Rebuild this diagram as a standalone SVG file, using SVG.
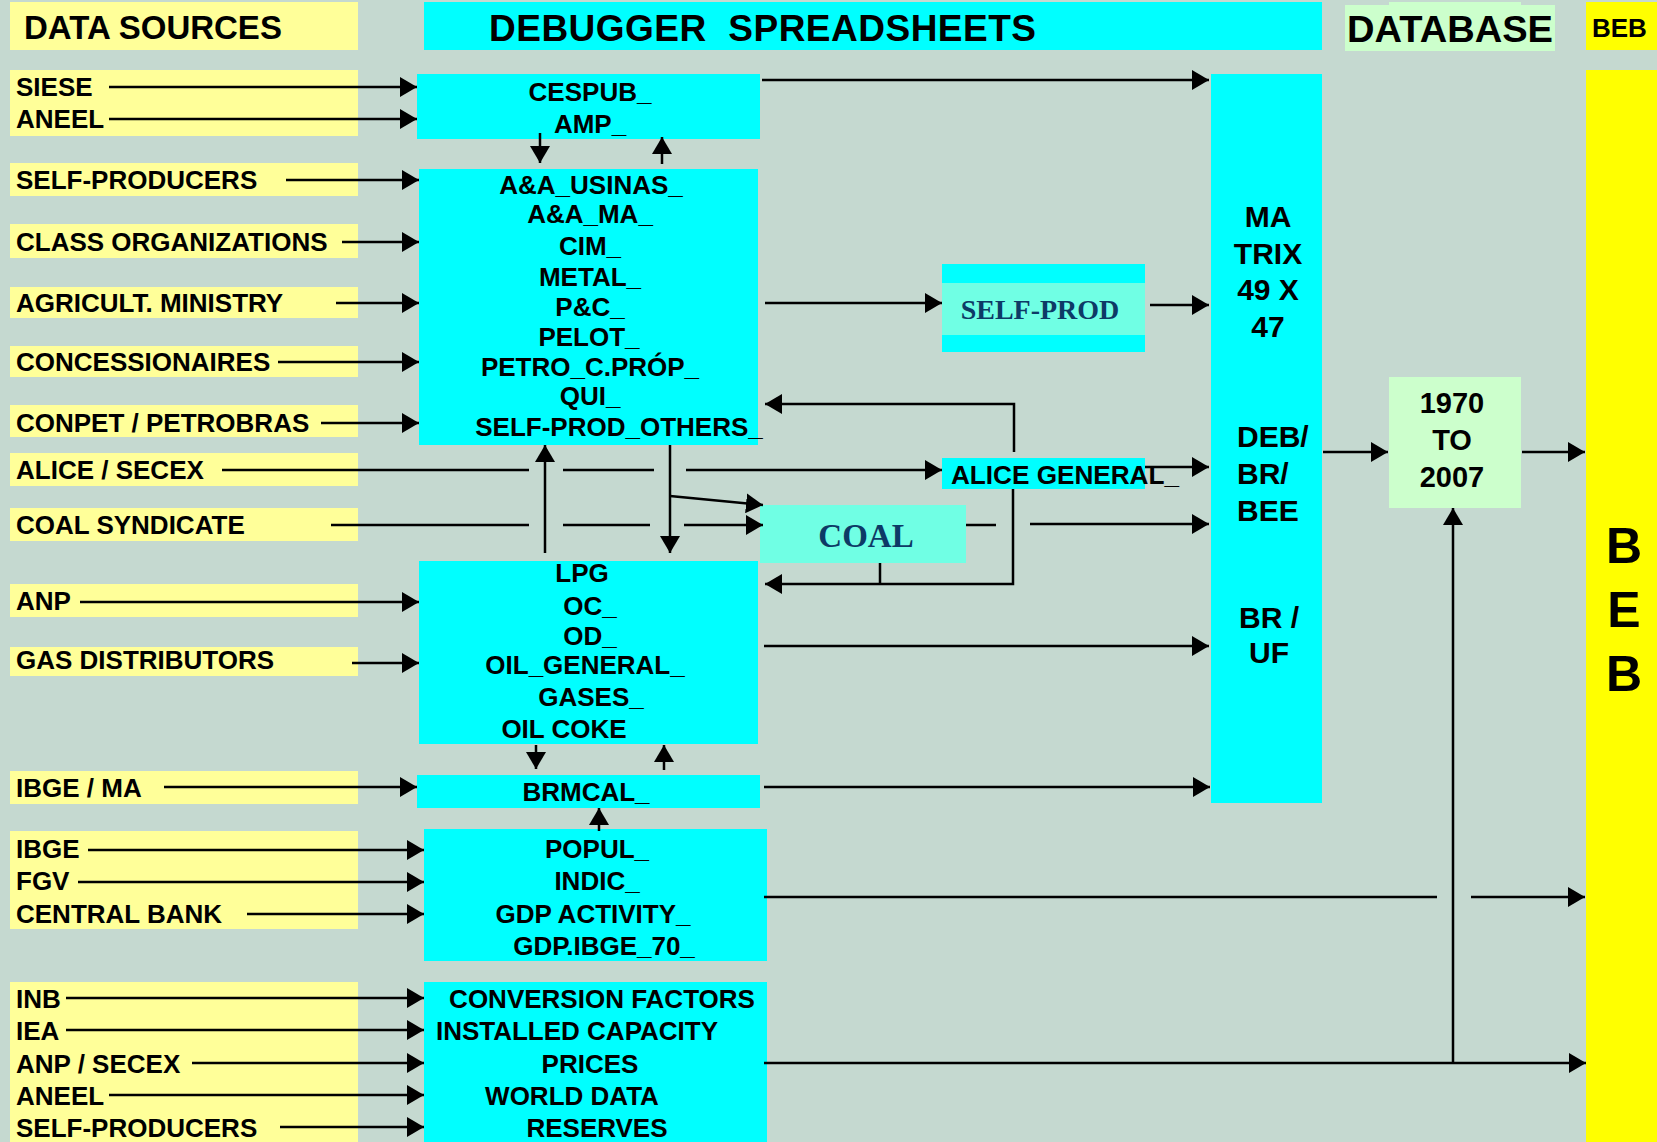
<svg xmlns="http://www.w3.org/2000/svg" width="1657" height="1142" viewBox="0 0 1657 1142">
<style>
.t{font-family:"Liberation Sans",Arial,Helvetica,sans-serif;font-weight:bold;font-size:26px;fill:#000}
.m{text-anchor:middle}
.src{fill:#FFFF99}
.cy{fill:#00FFFF}
.aq{fill:#70FFE4}
.lg{fill:#CCFFCC}
.sf{font-family:"Liberation Serif","Times New Roman",serif;font-weight:bold;fill:#0D3A66;text-anchor:middle}
.c line,.c polyline{stroke:#000;stroke-width:2.5;fill:none}
.a{marker-end:url(#ah)}
</style>
<defs>
<marker id="ah" markerUnits="userSpaceOnUse" markerWidth="18" markerHeight="20" refX="17" refY="10" orient="auto">
<path d="M0,0 L17,10 L0,20 z" fill="#000"/>
</marker>
</defs>
<rect width="1657" height="1142" fill="#C5D9D0"/>

<g id="header-sources"><rect class="src" x="10" y="2" width="348" height="48"/><text class="t" x="24" y="39" style="font-size:33px">DATA SOURCES</text></g>
<g id="header-debugger"><rect class="cy" x="424" y="2" width="898" height="48"/><text class="t" x="489" y="41" style="font-size:37px" xml:space="preserve" textLength="547" lengthAdjust="spacing">DEBUGGER  SPREADSHEETS</text></g>
<g id="header-database"><rect class="lg" x="1345" y="5" width="210" height="46"/><rect class="lg" x="1389" y="2" width="132" height="10"/><text class="t" x="1347" y="42" style="font-size:37px" textLength="206" lengthAdjust="spacingAndGlyphs">DATABASE</text></g>
<g id="header-beb"><rect x="1586" y="2" width="71" height="48" fill="#FFFF00"/><text class="t" x="1592" y="37">BEB</text></g>

<g id="src-siese-aneel"><rect class="src" x="10" y="70" width="348" height="66"/><text class="t" x="16" y="96">SIESE</text><text class="t" x="16" y="128">ANEEL</text></g>
<g id="src-self-producers"><rect class="src" x="10" y="163" width="348" height="33"/><text class="t" x="16" y="189">SELF-PRODUCERS</text></g>
<g id="src-class"><rect class="src" x="10" y="224" width="348" height="34"/><text class="t" x="16" y="251">CLASS ORGANIZATIONS</text></g>
<g id="src-agricult"><rect class="src" x="10" y="287" width="348" height="31"/><text class="t" x="16" y="312">AGRICULT. MINISTRY</text></g>
<g id="src-concess"><rect class="src" x="10" y="346" width="348" height="31"/><text class="t" x="16" y="371">CONCESSIONAIRES</text></g>
<g id="src-conpet"><rect class="src" x="10" y="405" width="348" height="32"/><text class="t" x="16" y="432">CONPET / PETROBRAS</text></g>
<g id="src-alice"><rect class="src" x="10" y="453" width="348" height="33"/><text class="t" x="16" y="479">ALICE / SECEX</text></g>
<g id="src-coal"><rect class="src" x="10" y="508" width="348" height="33"/><text class="t" x="16" y="534">COAL SYNDICATE</text></g>
<g id="src-anp"><rect class="src" x="10" y="584" width="348" height="33"/><text class="t" x="16" y="610">ANP</text></g>
<g id="src-gas"><rect class="src" x="10" y="647" width="348" height="29"/><text class="t" x="16" y="669">GAS DISTRIBUTORS</text></g>
<g id="src-ibge-ma"><rect class="src" x="10" y="771" width="348" height="33"/><text class="t" x="16" y="797">IBGE / MA</text></g>
<g id="src-ibge-group"><rect class="src" x="10" y="831" width="348" height="98"/><text class="t" x="16" y="858">IBGE</text><text class="t" x="16" y="890">FGV</text><text class="t" x="16" y="923">CENTRAL BANK</text></g>
<g id="src-inb-group"><rect class="src" x="10" y="982" width="348" height="160"/><text class="t" x="16" y="1008">INB</text><text class="t" x="16" y="1040">IEA</text><text class="t" x="16" y="1073">ANP / SECEX</text><text class="t" x="16" y="1105">ANEEL</text><text class="t" x="16" y="1137">SELF-PRODUCERS</text></g>

<g id="sheet-cespub"><rect class="cy" x="417" y="74" width="343" height="65"/><text class="t m" x="590" y="101">CESPUB_</text><text class="t m" x="590" y="133">AMP_</text></g>
<g id="sheet-aa"><rect class="cy" x="419" y="169" width="339" height="276"/>
<text class="t m" x="591" y="194">A&amp;A_USINAS_</text><text class="t m" x="590" y="223">A&amp;A_MA_</text><text class="t m" x="590" y="255">CIM_</text><text class="t m" x="590" y="286">METAL_</text><text class="t m" x="590" y="316">P&amp;C_</text><text class="t m" x="589" y="346">PELOT_</text><text class="t m" x="590" y="376">PETRO_C.PRÓP_</text><text class="t m" x="590" y="405">QUI_</text><text class="t m" x="619" y="436">SELF-PROD_OTHERS_</text></g>
<g id="sheet-lpg"><rect class="cy" x="419" y="561" width="339" height="183"/>
<text class="t m" x="582" y="582">LPG</text><text class="t m" x="590" y="615">OC_</text><text class="t m" x="590" y="645">OD_</text><text class="t m" x="585" y="674">OIL_GENERAL_</text><text class="t m" x="591" y="706">GASES_</text><text class="t m" x="564" y="738">OIL COKE</text></g>
<g id="sheet-brmcal"><rect class="cy" x="417" y="775" width="343" height="33"/><text class="t m" x="586" y="801">BRMCAL_</text></g>
<g id="sheet-popul"><rect class="cy" x="424" y="829" width="343" height="132"/>
<text class="t m" x="597" y="858">POPUL_</text><text class="t m" x="597" y="890">INDIC_</text><text class="t m" x="593" y="923">GDP ACTIVITY_</text><text class="t m" x="604" y="955">GDP.IBGE_70_</text></g>
<g id="sheet-conversion"><rect class="cy" x="424" y="982" width="343" height="160"/>
<text class="t m" x="602" y="1008">CONVERSION FACTORS</text><text class="t m" x="577" y="1040">INSTALLED CAPACITY</text><text class="t m" x="590" y="1073">PRICES</text><text class="t m" x="572" y="1105">WORLD DATA</text><text class="t m" x="597" y="1137">RESERVES</text></g>

<g id="sheet-selfprod"><rect class="cy" x="942" y="264" width="203" height="88"/><rect class="aq" x="942" y="283" width="203" height="52"/><text class="sf" x="1040" y="319" style="font-size:28px">SELF-PROD</text></g>
<g id="sheet-alice-general"><rect class="cy" x="942" y="458" width="203" height="31"/><text class="t" x="951" y="484" style="font-size:25px" textLength="228" lengthAdjust="spacingAndGlyphs">ALICE GENERAL_</text></g>
<g id="sheet-coal"><rect class="aq" x="760" y="505" width="206" height="58"/><text class="sf" x="866" y="547" style="font-size:33px">COAL</text></g>

<g id="matrix"><rect class="cy" x="1211" y="74" width="111" height="729"/>
<text class="t m" x="1268" y="227" style="font-size:30px">MA</text><text class="t m" x="1268" y="264" style="font-size:30px">TRIX</text><text class="t m" x="1268" y="300" style="font-size:30px">49 X</text><text class="t m" x="1268" y="337" style="font-size:30px">47</text>
<text class="t" x="1237" y="447" style="font-size:30px">DEB/</text><text class="t" x="1237" y="484" style="font-size:30px">BR/</text><text class="t" x="1237" y="521" style="font-size:30px">BEE</text>
<text class="t m" x="1269" y="628" style="font-size:30px">BR /</text><text class="t m" x="1269" y="663" style="font-size:30px">UF</text></g>

<g id="years"><rect class="lg" x="1389" y="377" width="132" height="131"/><text class="t m" x="1452" y="413" style="font-size:29px">1970</text><text class="t m" x="1452" y="450" style="font-size:29px">TO</text><text class="t m" x="1452" y="487" style="font-size:29px">2007</text></g>

<g id="beb"><rect x="1586" y="70" width="71" height="1072" fill="#FFFF00"/><text class="t m" x="1624" y="563" style="font-size:50px">B</text><text class="t m" x="1624" y="627" style="font-size:50px">E</text><text class="t m" x="1624" y="691" style="font-size:50px">B</text></g>

<g id="connectors" class="c">
<line class="a" x1="109" y1="87" x2="417" y2="87"/>
<line class="a" x1="109" y1="119" x2="417" y2="119"/>
<line class="a" x1="286" y1="180" x2="419" y2="180"/>
<line class="a" x1="342" y1="242" x2="419" y2="242"/>
<line class="a" x1="336" y1="303" x2="419" y2="303"/>
<line class="a" x1="278" y1="362" x2="419" y2="362"/>
<line class="a" x1="321" y1="423" x2="419" y2="423"/>
<line x1="222" y1="470" x2="529" y2="470"/>
<line x1="563" y1="470" x2="654" y2="470"/>
<line class="a" x1="686" y1="470" x2="942" y2="470"/>
<line x1="331" y1="525" x2="529" y2="525"/>
<line x1="563" y1="525" x2="650" y2="525"/>
<line class="a" x1="684" y1="525" x2="763" y2="525"/>
<line class="a" x1="80" y1="602" x2="419" y2="602"/>
<line class="a" x1="352" y1="663" x2="419" y2="663"/>
<line class="a" x1="164" y1="787" x2="417" y2="787"/>
<line class="a" x1="88" y1="850" x2="424" y2="850"/>
<line class="a" x1="78" y1="882" x2="424" y2="882"/>
<line class="a" x1="247" y1="914" x2="424" y2="914"/>
<line class="a" x1="66" y1="998" x2="424" y2="998"/>
<line class="a" x1="66" y1="1030" x2="424" y2="1030"/>
<line class="a" x1="192" y1="1063" x2="424" y2="1063"/>
<line class="a" x1="109" y1="1095" x2="424" y2="1095"/>
<line class="a" x1="280" y1="1127" x2="424" y2="1127"/>

<line class="a" x1="540" y1="133" x2="540" y2="163"/>
<line class="a" x1="662" y1="164" x2="662" y2="137"/>
<line class="a" x1="762" y1="80" x2="1209" y2="80"/>
<line class="a" x1="765" y1="303" x2="942" y2="303"/>
<line class="a" x1="1150" y1="305" x2="1209" y2="305"/>
<polyline class="a" points="1014,452 1014,404 765,404"/>
<polyline class="a" points="1013,489 1013,584 765,584"/>
<line x1="880" y1="563" x2="880" y2="584"/>
<line class="a" x1="1145" y1="467" x2="1209" y2="467"/>
<line x1="966" y1="525" x2="996" y2="525"/>
<line class="a" x1="1030" y1="524" x2="1209" y2="524"/>
<line class="a" x1="670" y1="445" x2="670" y2="553"/>
<line class="a" x1="670" y1="496" x2="763" y2="505"/>
<line class="a" x1="545" y1="553" x2="545" y2="445"/>
<line class="a" x1="764" y1="646" x2="1209" y2="646"/>
<line class="a" x1="536" y1="745" x2="536" y2="769"/>
<line class="a" x1="664" y1="770" x2="664" y2="745"/>
<line class="a" x1="764" y1="787" x2="1210" y2="787"/>
<line class="a" x1="599" y1="831" x2="599" y2="808"/>
<line x1="764" y1="897" x2="1437" y2="897"/>
<line class="a" x1="1471" y1="897" x2="1585" y2="897"/>
<line class="a" x1="764" y1="1063" x2="1586" y2="1063"/>
<line class="a" x1="1453" y1="1063" x2="1453" y2="508"/>
<line class="a" x1="1323" y1="452" x2="1388" y2="452"/>
<line class="a" x1="1522" y1="452" x2="1585" y2="452"/>
</g>
</svg>
